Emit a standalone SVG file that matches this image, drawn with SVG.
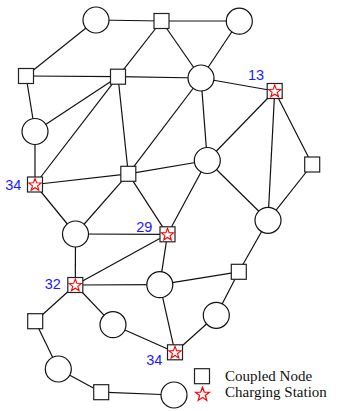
<svg xmlns="http://www.w3.org/2000/svg" xmlns:xlink="http://www.w3.org/1999/xlink" width="342" height="411" viewBox="0 0 342 411">
<style>
.e{stroke:#111;stroke-width:1.2;fill:none}
.c{fill:#fff;stroke:#111;stroke-width:1.2}
.s{fill:#fff;stroke:#222;stroke-width:1.2}
.st{fill:none;stroke:#f00;stroke-width:1.1;stroke-linejoin:miter}
.lb{font-family:"Liberation Sans",Arial,sans-serif;font-size:14.5px;fill:#1a1aff}
.lg{font-family:"Liberation Serif","Times New Roman",serif;font-size:15px;fill:#111}
</style>
<defs>
<circle id="cn" r="13" class="c"/>
<rect id="sq" x="-7.5" y="-7.5" width="15" height="15" class="s"/>
<path id="star" class="st" d="M0,-6.5 L1.59,-2.18 L6.18,-2.01 L2.57,0.83 L3.82,5.26 L0,2.7 L-3.82,5.26 L-2.57,0.83 L-6.18,-2.01 L-1.59,-2.18 Z"/>
</defs>
<g id="connectors">
<line class="e" x1="96" y1="20" x2="161.5" y2="21"/>
<line class="e" x1="96" y1="20" x2="26" y2="76"/>
<line class="e" x1="161.5" y1="21" x2="239" y2="21"/>
<line class="e" x1="161.5" y1="21" x2="118" y2="76.7"/>
<line class="e" x1="161.5" y1="21" x2="201" y2="78"/>
<line class="e" x1="239" y1="21" x2="201" y2="78"/>
<line class="e" x1="26" y1="76" x2="118" y2="76.7"/>
<line class="e" x1="118" y1="76.7" x2="201" y2="78"/>
<line class="e" x1="26" y1="76" x2="35" y2="131.5"/>
<line class="e" x1="118" y1="76.7" x2="35" y2="131.5"/>
<line class="e" x1="118" y1="76.7" x2="35" y2="184.5"/>
<line class="e" x1="118" y1="76.7" x2="128.3" y2="173.8"/>
<line class="e" x1="201" y1="78" x2="128.3" y2="173.8"/>
<line class="e" x1="201" y1="78" x2="274.7" y2="91"/>
<line class="e" x1="201" y1="78" x2="207.3" y2="160.5"/>
<line class="e" x1="274.7" y1="91" x2="207.3" y2="160.5"/>
<line class="e" x1="274.7" y1="91" x2="268" y2="220.3"/>
<line class="e" x1="274.7" y1="91" x2="312.2" y2="164.5"/>
<line class="e" x1="312.2" y1="164.5" x2="268" y2="220.3"/>
<line class="e" x1="207.3" y1="160.5" x2="128.3" y2="173.8"/>
<line class="e" x1="207.3" y1="160.5" x2="167.5" y2="234.3"/>
<line class="e" x1="207.3" y1="160.5" x2="268" y2="220.3"/>
<line class="e" x1="268" y1="220.3" x2="238.8" y2="271.8"/>
<line class="e" x1="35" y1="131.5" x2="35" y2="184.5"/>
<line class="e" x1="35" y1="184.5" x2="128.3" y2="173.8"/>
<line class="e" x1="35" y1="184.5" x2="75.5" y2="234"/>
<line class="e" x1="128.3" y1="173.8" x2="75.5" y2="234"/>
<line class="e" x1="128.3" y1="173.8" x2="167.5" y2="234.3"/>
<line class="e" x1="75.5" y1="234" x2="167.5" y2="234.3"/>
<line class="e" x1="75.5" y1="234" x2="75.3" y2="285"/>
<line class="e" x1="167.5" y1="234.3" x2="75.3" y2="285"/>
<line class="e" x1="167.5" y1="234.3" x2="159.8" y2="284.7"/>
<line class="e" x1="75.3" y1="285" x2="159.8" y2="284.7"/>
<line class="e" x1="159.8" y1="284.7" x2="238.8" y2="271.8"/>
<line class="e" x1="159.8" y1="284.7" x2="175" y2="352.3"/>
<line class="e" x1="75.3" y1="285" x2="35.2" y2="321.2"/>
<line class="e" x1="75.3" y1="285" x2="113" y2="324.7"/>
<line class="e" x1="113" y1="324.7" x2="175" y2="352.3"/>
<line class="e" x1="238.8" y1="271.8" x2="216.3" y2="315.3"/>
<line class="e" x1="216.3" y1="315.3" x2="175" y2="352.3"/>
<line class="e" x1="35.2" y1="321.2" x2="58.3" y2="369"/>
<line class="e" x1="58.3" y1="369" x2="101.2" y2="392.2"/>
<line class="e" x1="101.2" y1="392.2" x2="174" y2="395"/>
</g>
<g id="C1"><use xlink:href="#cn" x="96" y="20"/></g>
<g id="C2"><use xlink:href="#cn" x="239.3" y="21.2"/></g>
<g id="C3"><use xlink:href="#cn" x="201" y="78"/></g>
<g id="C4"><use xlink:href="#cn" x="35" y="131.5"/></g>
<g id="C5"><use xlink:href="#cn" x="207.3" y="160.5"/></g>
<g id="C6"><use xlink:href="#cn" x="268" y="220.3"/></g>
<g id="C7"><use xlink:href="#cn" x="75.5" y="234"/></g>
<g id="C8"><use xlink:href="#cn" x="159.8" y="284.7"/></g>
<g id="C9"><use xlink:href="#cn" x="113" y="324.7"/></g>
<g id="C10"><use xlink:href="#cn" x="216.3" y="315.3"/></g>
<g id="C11"><use xlink:href="#cn" x="58.3" y="369"/></g>
<g id="C12"><use xlink:href="#cn" x="174" y="395"/></g>
<g id="S1"><use xlink:href="#sq" x="161.5" y="21"/></g>
<g id="S2"><use xlink:href="#sq" x="26" y="76"/></g>
<g id="S3"><use xlink:href="#sq" x="118" y="76.7"/></g>
<g id="S4"><use xlink:href="#sq" x="274.7" y="91"/><use xlink:href="#star" x="274.7" y="91.5"/><text class="lb" x="256" y="80" text-anchor="middle">13</text></g>
<g id="S5"><use xlink:href="#sq" x="312.2" y="164.5"/></g>
<g id="S6"><use xlink:href="#sq" x="35" y="184.5"/><use xlink:href="#star" x="35" y="185"/><text class="lb" x="13.3" y="190" text-anchor="middle">34</text></g>
<g id="S7"><use xlink:href="#sq" x="128.3" y="173.8"/></g>
<g id="S8"><use xlink:href="#sq" x="167.5" y="234.3"/><use xlink:href="#star" x="167.5" y="234.8"/><text class="lb" x="144.2" y="231.7" text-anchor="middle">29</text></g>
<g id="S9"><use xlink:href="#sq" x="238.8" y="271.8"/></g>
<g id="S10"><use xlink:href="#sq" x="75.3" y="285"/><use xlink:href="#star" x="75.3" y="285.5"/><text class="lb" x="52.7" y="289" text-anchor="middle">32</text></g>
<g id="S11"><use xlink:href="#sq" x="35.2" y="321.2"/></g>
<g id="S12"><use xlink:href="#sq" x="175" y="352.3"/><use xlink:href="#star" x="175" y="352.8"/><text class="lb" x="154.2" y="365" text-anchor="middle">34</text></g>
<g id="S13"><use xlink:href="#sq" x="101.2" y="392.2"/></g>
<g id="legend">
<use xlink:href="#sq" x="202" y="376.2"/>
<use xlink:href="#star" x="202.5" y="394.5" transform="translate(202.5 394.5) scale(1.12) translate(-202.5 -394.5)"/>
<text class="lg" x="225" y="380.7">Coupled Node</text>
<text class="lg" x="225" y="396.5">Charging Station</text>
</g>
</svg>
